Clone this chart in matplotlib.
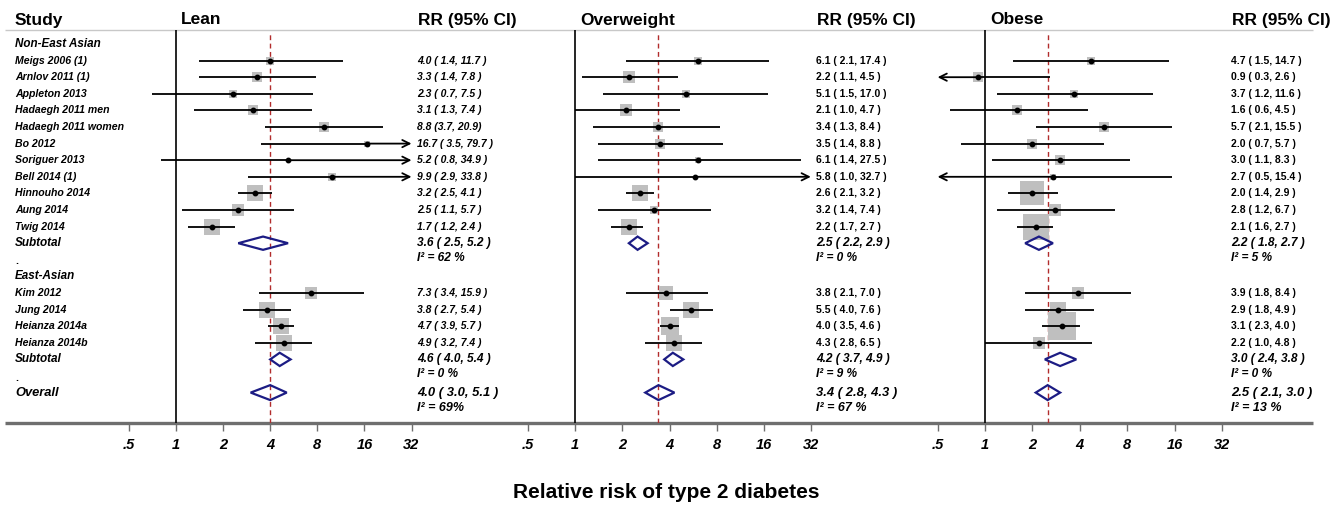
import numpy as np
import matplotlib
matplotlib.use("Agg")
from matplotlib import pyplot as plt
from matplotlib.patches import Polygon

plt.rcParams['font.family'] = ['Liberation Sans', 'DejaVu Sans']

# ---- data ----
panels = ["Lean", "Overweight", "Obese"]
groups = ["Non-East Asian", "East-Asian"]
studies_nea = ["Meigs 2006 (1)", "Arnlov 2011 (1)", "Appleton 2013", "Hadaegh 2011 men",
               "Hadaegh 2011 women", "Bo 2012", "Soriguer 2013", "Bell 2014 (1)",
               "Hinnouho 2014", "Aung 2014", "Twig 2014"]
studies_ea = ["Kim 2012", "Jung 2014", "Heianza 2014a", "Heianza 2014b"]

# RR, lower, upper per study (non-East Asian then East-Asian)
lean_rr = [4.0, 3.3, 2.3, 3.1, 8.8, 16.7, 5.2, 9.9, 3.2, 2.5, 1.7, 7.3, 3.8, 4.7, 4.9]
lean_lo = [1.4, 1.4, 0.7, 1.3, 3.7, 3.5, 0.8, 2.9, 2.5, 1.1, 1.2, 3.4, 2.7, 3.9, 3.2]
lean_hi = [11.7, 7.8, 7.5, 7.4, 20.9, 79.7, 34.9, 33.8, 4.1, 5.7, 2.4, 15.9, 5.4, 5.7, 7.4]
lean_w = [7.4, 9.2, 7.4, 11.1, 11.1, 3.6, 0.8, 5.9, 20.7, 13.2, 20.7, 13.2, 20.7, 23.5, 20.7]

ow_rr = [6.1, 2.2, 5.1, 2.1, 3.4, 3.5, 6.1, 5.8, 2.6, 3.2, 2.2, 3.8, 5.5, 4.0, 4.3]
ow_lo = [2.1, 1.1, 1.5, 1.0, 1.3, 1.4, 1.4, 1.0, 2.1, 1.4, 1.7, 2.1, 4.0, 3.5, 2.8]
ow_hi = [17.4, 4.5, 17.0, 4.7, 8.4, 8.8, 27.5, 32.7, 3.2, 7.4, 2.7, 7.0, 7.6, 4.6, 6.5]
ow_w = [7.4, 13.2, 5.9, 13.2, 11.1, 11.1, 2.3, 0.8, 26.5, 5.9, 23.5, 18.0, 23.5, 29.8, 20.7]

ob_rr = [4.7, 0.9, 3.7, 1.6, 5.7, 2.0, 3.0, 2.7, 2.0, 2.8, 2.1, 3.9, 2.9, 3.1, 2.2]
ob_lo = [1.5, 0.3, 1.2, 0.6, 2.1, 0.7, 1.1, 0.5, 1.4, 1.2, 1.6, 1.8, 1.8, 2.3, 1.0]
ob_hi = [14.7, 2.6, 11.6, 4.5, 15.5, 5.7, 8.3, 15.4, 2.9, 6.7, 2.7, 8.4, 4.9, 4.0, 4.8]
ob_w = [7.4, 9.2, 7.4, 9.2, 11.1, 9.2, 9.2, 2.3, 48.6, 13.2, 62.0, 13.2, 26.5, 67.0, 15.5]

# pooled: [non-East Asian subtotal, East-Asian subtotal, overall]
lean_pool = [(3.6, 2.5, 5.2), (4.6, 4.0, 5.4), (4.0, 3.0, 5.1)]
ow_pool = [(2.5, 2.2, 2.9), (4.2, 3.7, 4.9), (3.4, 2.8, 4.3)]
ob_pool = [(2.2, 1.8, 2.7), (3.0, 2.4, 3.8), (2.5, 2.1, 3.0)]
lean_i2 = ["62 %", "0 %", "69%"]
ow_i2 = ["0 %", "9 %", "67 %"]
ob_i2 = ["5 %", "0 %", "13 %"]

ticks = [0.5, 1, 2, 4, 8, 16, 32]
tick_labels = [".5", "1", "2", "4", "8", "16", "32"]

# label text overrides (as printed in the original)
label_override = {(0, 4): "8.8 (3.7, 20.9)"}

# ---- layout (pixels) ----
W, H = 1344, 508
fig = plt.figure(figsize=(W / 100, H / 100), dpi=100)

y_top_px, y_bot_px = 30, 423
row0_px, row_h = 44, 16.6
ytop = (y_top_px - row0_px) / row_h
ybot = (y_bot_px - row0_px) / row_h

def row_of(px):
    return (px - row0_px) / row_h

bg = fig.add_axes([0, 1 - y_bot_px / H, 1, (y_bot_px - y_top_px) / H])
bg.set_xlim(0, W)
bg.set_ylim(ybot, ytop)
bg.axis("off")

# row layout
rows_nea = list(range(1, 12))
sub1_row = 12
dot1_row = 13
ea_head_row = 14
rows_ea = list(range(15, 19))
sub2_row = 19
dot2_row = 20
overall_row = 21
study_rows = rows_nea + rows_ea
pool_rows = [sub1_row, sub2_row, overall_row]

sx = 15  # study column
bg.text(sx, row_of(20), "Study", fontsize=12.5, fontweight="bold", va="center", clip_on=False)
bg.text(sx, 0, groups[0], fontsize=8.4, fontweight="bold", style="italic", va="center")
bg.text(sx, ea_head_row, groups[1], fontsize=8.4, fontweight="bold", style="italic", va="center")
for r, s in zip(study_rows, studies_nea + studies_ea):
    bg.text(sx, r, s, fontsize=7.6, fontweight="bold", style="italic", va="center")
for r in [sub1_row, sub2_row]:
    bg.text(sx, r, "Subtotal", fontsize=8.5, fontweight="bold", style="italic", va="center")
for r in [dot1_row, dot2_row]:
    bg.text(sx, r + 0.1, ".", fontsize=7.6, fontweight="bold", va="center")
bg.text(sx, overall_row, "Overall", fontsize=9.3, fontweight="bold", style="italic", va="center")

# frame lines
bg.hlines(ytop, 5, 1313, color="#c8c8c8", lw=1.0, clip_on=False)
bg.hlines(ybot, 5, 1313, color="#6e6e6e", lw=2.4, clip_on=False, zorder=5)

panel_x1 = [176, 575.3, 985]
panel_d = [47.1, 47.1, 47.4]
rr_col = [417, 816, 1231]
est_all = [lean_rr, ow_rr, ob_rr]
lo_all = [lean_lo, ow_lo, ob_lo]
hi_all = [lean_hi, ow_hi, ob_hi]
w_all = [lean_w, ow_w, ob_w]
pool_all = [lean_pool, ow_pool, ob_pool]
i2_all = [lean_i2, ow_i2, ob_i2]

xmin, xmax = 0.5, 32

for p in range(3):
    x1, d = panel_x1[p], panel_d[p]
    left_px = x1 - d
    right_px = x1 + 5 * d
    ax = fig.add_axes([left_px / W, 1 - y_bot_px / H, (right_px - left_px) / W,
                       (y_bot_px - y_top_px) / H])
    ax.set_xscale("log", base=2)
    ax.set_xlim(xmin, xmax)
    ax.set_ylim(ybot, ytop)
    ax.patch.set_alpha(0)
    for sp in ax.spines.values():
        sp.set_visible(False)
    ax.set_yticks([])
    ax.set_xticks(ticks)
    ax.set_xticklabels(tick_labels)
    ax.minorticks_off()
    ax.tick_params(axis="x", direction="out", length=5.5, width=1.0, color="#6e6e6e", pad=5,
                   labelsize=10.5)
    for t in ax.get_xticklabels():
        t.set_fontweight("bold")
        t.set_fontstyle("italic")

    ax.axvline(1, color="black", lw=1.2, zorder=1)
    ax.axvline(pool_all[p][2][0], ymin=0, ymax=0.99, color="#b22c2c", lw=1.0,
               ls=(0, (3.5, 2.5)), zorder=1)

    est, lo, hi, wt = est_all[p], lo_all[p], hi_all[p], w_all[p]
    for i, r in enumerate(study_rows):
        side_pt = 3.3 * np.sqrt(wt[i]) * 0.72
        ax.scatter([est[i]], [r], marker="s", s=side_pt ** 2, color="#bfbfbf", lw=0, zorder=2)
        l, h = max(lo[i], xmin), min(hi[i], xmax)
        if lo[i] <= xmin:
            ax.hlines(r, est[i], h, color="black", lw=1.3, zorder=3)
            ax.annotate("", xy=(xmin, r), xytext=(est[i], r),
                        arrowprops=dict(arrowstyle="->", lw=1.3, color="black",
                                        mutation_scale=13, shrinkA=0, shrinkB=0), zorder=3)
        elif hi[i] > xmax:
            ax.hlines(r, l, est[i], color="black", lw=1.3, zorder=3)
            ax.annotate("", xy=(xmax, r), xytext=(est[i], r),
                        arrowprops=dict(arrowstyle="->", lw=1.3, color="black",
                                        mutation_scale=13, shrinkA=0, shrinkB=0), zorder=3)
        else:
            ax.hlines(r, l, h, color="black", lw=1.3, zorder=3)
        ax.plot(est[i], r, "o", ms=3.2, color="black", zorder=4)

        txt = label_override.get((p, i), f"{est[i]:.1f} ( {lo[i]:.1f}, {hi[i]:.1f} )")
        bg.text(rr_col[p], r, txt, fontsize=7.5, fontweight="bold",
                style="italic" if p == 0 else "normal", va="center")

    for k, r in enumerate(pool_rows):
        e, l, h = pool_all[p][k]
        hh = 0.45 if k == 2 else 0.4
        dia = Polygon([(l, r), (e, r - hh), (h, r), (e, r + hh)], closed=True, fill=False,
                      edgecolor="#1c1c84", lw=1.6, zorder=4)
        ax.add_patch(dia)
        fs = 9.4 if k == 2 else 8.6
        bg.text(rr_col[p], r, f"{e:.1f} ( {l:.1f}, {h:.1f} )", fontsize=fs, fontweight="bold",
                style="italic", va="center")
        bg.text(rr_col[p], r + 0.9, "I\u00b2 = " + i2_all[p][k], fontsize=8.6 if k < 2 else 9.0,
                fontweight="bold", style="italic", va="center")

    # headers
    bg.text(x1 + 5, row_of(20), panels[p], fontsize=12.5, fontweight="bold", va="center", clip_on=False)
    bg.text(rr_col[p] + 1, row_of(20), "RR (95% CI)", fontsize=12.5, fontweight="bold",
            va="center", clip_on=False)

fig.text(666 / W, 1 - 493 / H, "Relative risk of type 2 diabetes", fontsize=15, fontweight="bold",
         ha="center", va="center")

fig.savefig("out.png", dpi=100)
